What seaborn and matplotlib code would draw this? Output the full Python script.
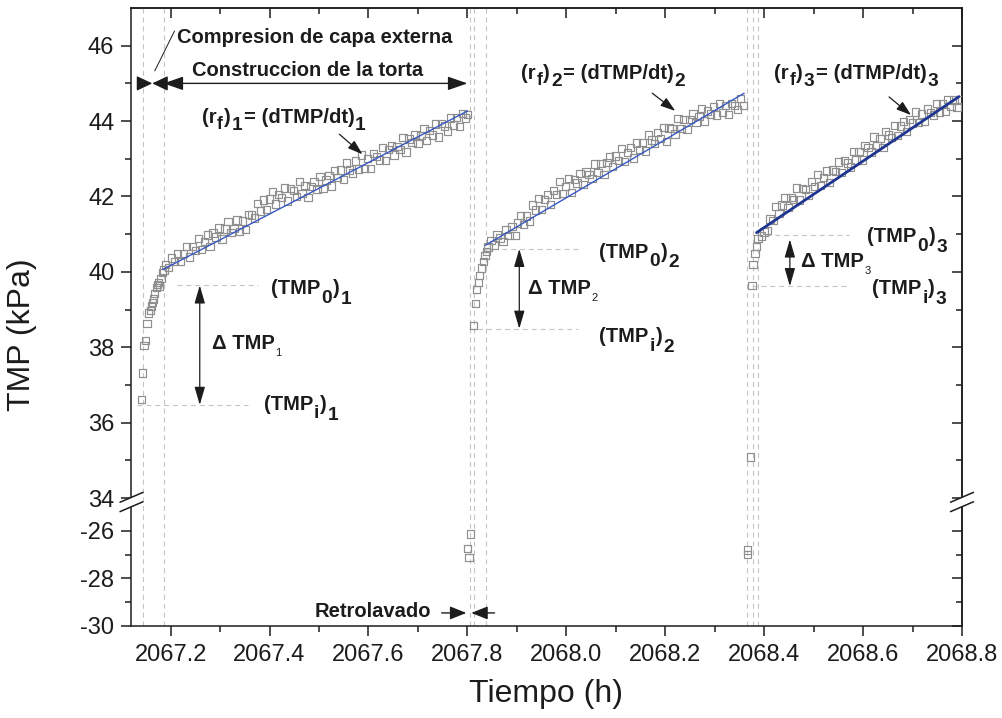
import numpy as np
import pandas as pd
import matplotlib
matplotlib.use("Agg")
import matplotlib.pyplot as plt
import seaborn as sns
from matplotlib.lines import Line2D
from matplotlib.patches import Polygon
from matplotlib.transforms import ScaledTranslation
from matplotlib.ticker import FixedLocator, FormatStrFormatter, MultipleLocator

# ---------------- data ----------------
# cycle 1 : initial rise + cake build-up
x1_rise = [2067.141, 2067.143, 2067.146, 2067.149, 2067.152, 2067.156, 2067.159, 2067.161, 2067.163,
           2067.166, 2067.168, 2067.171, 2067.173, 2067.176, 2067.178, 2067.181, 2067.184, 2067.187]
y1_rise = [36.62, 37.32, 38.04, 38.18, 38.63, 38.91, 38.98, 39.09, 39.18,
           39.28, 39.42, 39.58, 39.66, 39.71, 39.62, 39.82, 39.99, 40.05]
x1_band = [2067.190, 2067.196, 2067.202, 2067.208, 2067.214, 2067.220, 2067.226, 2067.232, 2067.238, 2067.244,
           2067.250, 2067.256, 2067.262, 2067.268, 2067.274, 2067.280, 2067.286, 2067.292, 2067.298, 2067.304,
           2067.310, 2067.316, 2067.322, 2067.328, 2067.334, 2067.340, 2067.346, 2067.352, 2067.358, 2067.364,
           2067.370, 2067.376, 2067.382, 2067.388, 2067.394, 2067.400, 2067.406, 2067.412, 2067.418, 2067.424,
           2067.430, 2067.436, 2067.442, 2067.448, 2067.454, 2067.460, 2067.466, 2067.472, 2067.478, 2067.484,
           2067.490, 2067.496, 2067.502, 2067.508, 2067.514, 2067.520, 2067.526, 2067.532, 2067.538, 2067.544,
           2067.550, 2067.556, 2067.562, 2067.568, 2067.574, 2067.580, 2067.586, 2067.592, 2067.598, 2067.604,
           2067.610, 2067.616, 2067.622, 2067.628, 2067.634, 2067.640, 2067.646, 2067.652, 2067.658, 2067.664,
           2067.670, 2067.676, 2067.682, 2067.688, 2067.694, 2067.700, 2067.706, 2067.712, 2067.718, 2067.724,
           2067.730, 2067.736, 2067.742, 2067.748, 2067.754, 2067.760, 2067.766, 2067.772, 2067.778, 2067.784,
           2067.790, 2067.796, 2067.800]
y1_band = [40.20, 40.12, 40.37, 40.27, 40.49, 40.27, 40.49, 40.68, 40.39, 40.67,
           40.57, 40.88, 40.59, 40.80, 40.98, 40.67, 41.03, 40.92, 41.16, 40.87,
           41.14, 41.33, 41.04, 41.15, 41.38, 41.07, 41.35, 41.12, 41.53, 41.51,
           41.43, 41.82, 41.61, 41.91, 41.65, 41.93, 42.13, 41.80, 42.06, 41.97,
           42.22, 41.88, 42.21, 42.16, 42.00, 42.40, 42.08, 42.29, 41.97, 42.27,
           42.40, 42.19, 42.53, 42.21, 42.44, 42.56, 42.28, 42.69, 42.50, 42.70,
           42.45, 42.89, 42.70, 42.62, 42.94, 42.73, 43.10, 42.74, 43.00, 42.75,
           43.14, 43.06, 42.97, 43.30, 42.96, 43.25, 43.35, 43.10, 43.32, 43.25,
           43.57, 43.18, 43.52, 43.43, 43.65, 43.41, 43.62, 43.80, 43.48, 43.75,
           43.63, 43.92, 43.58, 43.93, 43.87, 43.74, 44.08, 43.90, 44.10, 43.86,
           44.20, 44.08, 44.18]

# cycle 2 : backwash points (lower segment), rise, build-up
x2_low = [2067.8006, 2067.8034, 2067.8060]
y2_low = [-26.73, -27.12, -26.13]
x2_rise = [2067.812, 2067.816, 2067.818, 2067.822, 2067.824, 2067.828, 2067.832, 2067.836, 2067.839]
y2_rise = [38.57, 39.16, 39.53, 39.72, 39.90, 40.10, 40.28, 40.44, 40.54]
x2_band = [2067.842, 2067.848, 2067.854, 2067.860, 2067.866, 2067.872, 2067.878, 2067.884, 2067.890, 2067.896,
           2067.902, 2067.908, 2067.914, 2067.920, 2067.926, 2067.932, 2067.938, 2067.944, 2067.950, 2067.956,
           2067.962, 2067.968, 2067.974, 2067.980, 2067.986, 2067.992, 2067.998, 2068.004, 2068.010, 2068.016,
           2068.022, 2068.028, 2068.034, 2068.040, 2068.046, 2068.052, 2068.058, 2068.064, 2068.070, 2068.076,
           2068.082, 2068.088, 2068.094, 2068.100, 2068.106, 2068.112, 2068.118, 2068.124, 2068.130, 2068.136,
           2068.142, 2068.148, 2068.154, 2068.160, 2068.166, 2068.172, 2068.178, 2068.184, 2068.190, 2068.196,
           2068.202, 2068.208, 2068.214, 2068.220, 2068.226, 2068.232, 2068.238, 2068.244, 2068.250, 2068.256,
           2068.262, 2068.268, 2068.274, 2068.280, 2068.286, 2068.292, 2068.298, 2068.304, 2068.310, 2068.316,
           2068.322, 2068.328, 2068.334, 2068.340, 2068.346, 2068.352, 2068.358]
y2_band = [40.66, 40.84, 40.71, 40.98, 40.90, 40.81, 41.13, 40.96, 41.20, 40.96,
           41.30, 41.50, 41.26, 41.48, 41.35, 41.77, 41.64, 41.94, 41.65, 41.92,
           42.06, 41.79, 42.15, 42.05, 42.40, 42.07, 42.26, 42.47, 42.10, 42.45,
           42.36, 42.61, 42.31, 42.65, 42.58, 42.48, 42.86, 42.63, 42.88, 42.59,
           42.90, 43.05, 42.80, 43.07, 42.96, 43.27, 42.93, 43.17, 43.30, 43.02,
           43.42, 43.25, 43.43, 43.21, 43.63, 43.50, 43.40, 43.70, 43.53, 43.83,
           43.46, 43.82, 43.80, 43.66, 44.06, 43.81, 44.04, 43.78, 44.05, 44.19,
           43.97, 44.13, 44.34, 44.00, 44.27, 44.19, 44.39, 44.16, 44.47, 44.22,
           44.42, 44.17, 44.47, 44.42, 44.30, 44.60, 44.41]

# cycle 3
x3_low = [2068.3657, 2068.3667]
y3_low = [-27.00, -26.80]
x3_rise = [2068.3725, 2068.3758, 2068.3778, 2068.3818, 2068.3846, 2068.3879, 2068.3947]
y3_rise = [35.09, 39.64, 40.20, 40.49, 40.68, 40.88, 40.95]
x3_band = [2068.400, 2068.406, 2068.412, 2068.418, 2068.424, 2068.430, 2068.436, 2068.442, 2068.448, 2068.454,
           2068.460, 2068.466, 2068.472, 2068.478, 2068.484, 2068.490, 2068.496, 2068.502, 2068.508, 2068.514,
           2068.520, 2068.526, 2068.532, 2068.538, 2068.544, 2068.550, 2068.556, 2068.562, 2068.568, 2068.574,
           2068.580, 2068.586, 2068.592, 2068.598, 2068.604, 2068.610, 2068.616, 2068.622, 2068.628, 2068.634,
           2068.640, 2068.646, 2068.652, 2068.658, 2068.664, 2068.670, 2068.676, 2068.682, 2068.688, 2068.694,
           2068.700, 2068.706, 2068.712, 2068.718, 2068.724, 2068.730, 2068.736, 2068.742, 2068.748, 2068.754,
           2068.760, 2068.766, 2068.772, 2068.778, 2068.784, 2068.790, 2068.796]
y3_band = [41.06, 41.09, 41.40, 41.37, 41.73, 41.54, 41.77, 41.96, 41.70, 41.98,
           41.92, 42.22, 41.91, 42.21, 42.19, 42.03, 42.40, 42.26, 42.59, 42.29,
           42.50, 42.68, 42.37, 42.70, 42.66, 42.91, 42.64, 42.96, 42.89, 42.78,
           43.19, 42.97, 43.20, 42.97, 43.35, 43.30, 43.18, 43.58, 43.35, 43.54,
           43.30, 43.72, 43.63, 43.56, 43.89, 43.62, 43.87, 43.99, 43.73, 44.05,
           43.95, 44.24, 43.96, 44.19, 43.99, 44.32, 44.23, 44.16, 44.47, 44.24,
           44.47, 44.25, 44.57, 44.39, 44.56, 44.36, 44.57]

# linear fits (r_f = dTMP/dt)
fit1_x = [2067.1844, 2067.8006]; fit1_y = [40.06, 44.27]
fit2_x = [2067.8360, 2068.3596]; fit2_y = [40.70, 44.74]
fit3_x = [2068.3846, 2068.7940]; fit3_y = [41.04, 44.65]

# phase boundaries (vertical dashed lines)
phase_x = [2067.144, 2067.186, 2067.806, 2067.814, 2067.837, 2068.366, 2068.377, 2068.388]

# TMP_0 / TMP_i levels and the x-span of their guide lines
tmp0 = [39.64, 40.61, 40.97]
tmpi = [36.47, 38.49, 39.62]
tmp0_span = [(2067.212, 2067.376), (2067.834, 2068.026), (2068.386, 2068.572)]
tmpi_span = [(2067.133, 2067.356), (2067.804, 2068.024), (2068.376, 2068.572)]
dtmp_x = [2067.259, 2067.905, 2068.452]
dtmp_top = [39.64, 40.61, 40.86]

# axes ticks
x_ticks = [2067.2, 2067.4, 2067.6, 2067.8, 2068.0, 2068.2, 2068.4, 2068.6, 2068.8]
y_top_ticks = [34, 36, 38, 40, 42, 44, 46]
y_top_minor = [35, 37, 39, 41, 43, 45]
y_bot_ticks = [-30, -28, -26]
y_bot_minor = [-29, -27]

# ---------------- style ----------------
sns.set_style("ticks")
plt.rcParams['font.family'] = ['Liberation Sans', 'DejaVu Sans']
plt.rcParams['axes.unicode_minus'] = False

INK = '#1c1c1c'
GRID = '#c4c4c4'
MK = '#8f8f8f'

W, H = 1003, 718
fig = plt.figure(figsize=(W / 100, H / 100), dpi=100)
L = 131 / W
WD = (962 - 131) / W
JOIN = 502
ax_top = fig.add_axes([L, 1 - JOIN / H, WD, (JOIN - 8) / H])
ax_bot = fig.add_axes([L, 1 - 626 / H, WD, (626 - JOIN) / H], sharex=ax_top)

top_df = pd.DataFrame({
    't': x1_rise + x1_band + x2_rise + x2_band + x3_rise + x3_band,
    'tmp': y1_rise + y1_band + y2_rise + y2_band + y3_rise + y3_band,
})
bot_df = pd.DataFrame({'t': x2_low + x3_low, 'tmp': y2_low + y3_low})

XL = (2067.12, 2068.8)
YT = (33.894, 47.0)
YB = (-30.0, -24.78)

# dashed phase boundaries
for ax in (ax_top, ax_bot):
    for xv in phase_x:
        ax.axvline(xv, color=GRID, lw=0.8, ls=(0, (4.5, 3.5)), zorder=1)

# guide lines for TMP_0 / TMP_i
for lv, (a, b) in zip(tmp0, tmp0_span):
    ax_top.plot([a, b], [lv, lv], color=GRID, lw=0.8, ls=(0, (4.5, 3.5)), zorder=1)
for lv, (a, b) in zip(tmpi, tmpi_span):
    ax_top.plot([a, b], [lv, lv], color=GRID, lw=0.8, ls=(0, (4.5, 3.5)), zorder=1)

# scatter points
sns.scatterplot(data=top_df, x='t', y='tmp', ax=ax_top, marker='s', s=28,
                facecolor='none', edgecolor=MK, linewidth=0.85, legend=False, zorder=3)
sns.scatterplot(data=bot_df, x='t', y='tmp', ax=ax_bot, marker='s', s=28,
                facecolor='none', edgecolor=MK, linewidth=0.85, legend=False, zorder=3)

# fitted lines
sns.lineplot(x=fit1_x, y=fit1_y, ax=ax_top, color='#3558c4', lw=1.0, estimator=None, sort=False, legend=False, zorder=4)
sns.lineplot(x=fit2_x, y=fit2_y, ax=ax_top, color='#3558c4', lw=1.0, estimator=None, sort=False, legend=False, zorder=4)
sns.lineplot(x=fit3_x, y=fit3_y, ax=ax_top, color='#1f3592', lw=2.0, estimator=None, sort=False, legend=False, zorder=4)

# ---------------- axes formatting ----------------
for ax in (ax_top, ax_bot):
    ax.set_xlim(*XL)
    ax.set_xlabel('')
    ax.set_ylabel('')
    for sp in ax.spines.values():
        sp.set_linewidth(1.1)
        sp.set_color(INK)
ax_top.set_ylim(*YT)
ax_bot.set_ylim(*YB)
ax_top.spines['bottom'].set_visible(False)
ax_bot.spines['top'].set_visible(False)

tick_kw = dict(color=INK, width=1.1, labelcolor=INK)
ax_top.yaxis.set_major_locator(FixedLocator(y_top_ticks))
ax_top.yaxis.set_minor_locator(FixedLocator(y_top_minor))
ax_top.yaxis.set_major_formatter(FormatStrFormatter('%d'))
ax_top.tick_params(axis='x', which='both', bottom=False, top=False, labelbottom=False)
ax_top.tick_params(axis='y', which='major', direction='out', length=7, labelsize=17, pad=5, **tick_kw)
ax_top.tick_params(axis='y', which='minor', direction='out', length=4, **tick_kw)
ax_bot.yaxis.set_major_locator(FixedLocator(y_bot_ticks))
ax_bot.yaxis.set_minor_locator(FixedLocator(y_bot_minor))
ax_bot.yaxis.set_major_formatter(FormatStrFormatter('%d'))
ax_bot.xaxis.set_major_locator(FixedLocator(x_ticks))
ax_bot.xaxis.set_minor_locator(MultipleLocator(0.1))
ax_bot.xaxis.set_major_formatter(FormatStrFormatter('%.1f'))
ax_bot.tick_params(axis='y', which='major', direction='out', length=7, labelsize=17, pad=5, **tick_kw)
ax_bot.tick_params(axis='y', which='minor', direction='out', length=4, **tick_kw)
ax_bot.tick_params(axis='x', which='major', direction='out', length=7, labelsize=17, pad=6, top=False, **tick_kw)
ax_bot.tick_params(axis='x', which='minor', direction='out', length=4, top=False, **tick_kw)

# inward ticks on right and top (Origin style)
for ax, maj, mnr in ((ax_top, y_top_ticks, y_top_minor), (ax_bot, y_bot_ticks, y_bot_minor)):
    sec = ax.secondary_yaxis('right')
    sec.yaxis.set_major_locator(FixedLocator(maj))
    sec.yaxis.set_minor_locator(FixedLocator(mnr))
    sec.tick_params(axis='y', which='major', direction='in', length=7, labelright=False, color=INK, width=1.1)
    sec.tick_params(axis='y', which='minor', direction='in', length=4, labelright=False, color=INK, width=1.1)
    sec.spines['right'].set_linewidth(1.1)
    sec.spines['right'].set_color(INK)
secx = ax_top.secondary_xaxis('top')
secx.xaxis.set_major_locator(FixedLocator(x_ticks))
secx.xaxis.set_minor_locator(MultipleLocator(0.1))
secx.tick_params(axis='x', which='major', direction='in', length=7, labeltop=False, color=INK, width=1.1)
secx.tick_params(axis='x', which='minor', direction='in', length=4, labeltop=False, color=INK, width=1.1)
secx.spines['top'].set_linewidth(1.1)
secx.spines['top'].set_color(INK)

ax_bot.set_xlabel('Tiempo (h)', fontsize=23, color=INK, labelpad=9)
fig.text(22 / W, 1 - 335 / H, 'TMP (kPa)', rotation=90, fontsize=23, color=INK, ha='center', va='center')

# ---------------- annotations ----------------
def arrow(ax, x0, y0, x1, y1, style, lw=1.0, ms=10):
    ax.annotate('', xy=(x1, y1), xytext=(x0, y0), xycoords='data', textcoords='data',
                arrowprops=dict(arrowstyle=style, color=INK, lw=lw, shrinkA=0, shrinkB=0,
                                mutation_scale=ms), annotation_clip=False)

FS = 14.5
BF = dict(fontsize=FS, fontweight='bold', color=INK)
renderer = fig.canvas.get_renderer()


def rich(ax, x, y, runs):
    """Draw text made of runs (text, scale, dy in points, weight) one after another."""
    dx = 0.0
    for txt, scale, dy, weight in runs:
        tr = ax.transData + ScaledTranslation(dx / 72.0, dy / 72.0, fig.dpi_scale_trans)
        t = ax.text(x, y, txt, transform=tr, fontsize=FS * scale, fontweight=weight,
                    color=INK, ha='left', va='baseline')
        bb = t.get_window_extent(renderer=renderer)
        dx += bb.width * 72.0 / fig.dpi + 0.6 * scale


def rf_runs(k):
    return [('(r', 1, 0, 'bold'), ('f', 0.88, -4.5, 'bold'), (')', 1, 0, 'bold'),
            (k, 0.95, -5.0, 'bold'), ('=', 1, 0, 'bold'), (' (dTMP/dt)', 1, 0, 'bold'),
            (k, 0.95, -5.0, 'bold')]


def tmp_runs(sub, k):
    return [('(TMP', 1, 0, 'bold'), (sub, 0.95, -6.0, 'bold'), (')', 1, 0, 'bold'),
            (k, 0.95, -7.0, 'bold')]


def dtmp_runs(k):
    return [('Δ TMP', 1, 0, 'bold'), (k, 0.55, -5.0, 'normal')]


# compression / construction arrows
arrow(ax_top, 2067.136, 45.0, 2067.163, 45.0, '-|>,head_length=0.95,head_width=0.45')
arrow(ax_top, 2067.189, 45.0, 2067.163, 45.0, '-|>,head_length=0.95,head_width=0.45')
arrow(ax_top, 2067.186, 45.0, 2067.800, 45.0, '<|-|>,head_length=1.2,head_width=0.42')
ax_top.plot([2067.168, 2067.208], [45.33, 46.39], color=INK, lw=0.7)
ax_top.text(2067.212, 46.06, 'Compresion de capa externa', ha='left', va='baseline', **BF)
ax_top.text(2067.477, 45.20, 'Construccion de la torta', ha='center', va='baseline', **BF)

# r_f labels and pointer arrows
rich(ax_top, 2067.263, 43.95, rf_runs('1'))
rich(ax_top, 2067.909, 45.12, rf_runs('2'))
rich(ax_top, 2068.420, 45.12, rf_runs('3'))
arrow(ax_top, 2067.5414, 43.65, 2067.5879, 43.12, '-|>,head_length=0.9,head_width=0.3', lw=0.9)
arrow(ax_top, 2068.1737, 44.74, 2068.2202, 44.27, '-|>,head_length=0.9,head_width=0.3', lw=0.9)
arrow(ax_top, 2068.6525, 44.64, 2068.6970, 44.16, '-|>,head_length=0.9,head_width=0.3', lw=0.9)

# delta TMP arrows
for xv, yt, yb in zip(dtmp_x, dtmp_top, tmpi):
    arrow(ax_top, xv, yt, xv, yb, '<|-|>,head_length=1.1,head_width=0.32', lw=0.9)

rich(ax_top, 2067.404, 39.40, tmp_runs('0', '1'))
rich(ax_top, 2067.283, 37.94, dtmp_runs('1'))
rich(ax_top, 2067.388, 36.34, tmp_runs('i', '1'))
rich(ax_top, 2068.067, 40.38, tmp_runs('0', '2'))
rich(ax_top, 2067.923, 39.40, dtmp_runs('2'))
rich(ax_top, 2068.067, 38.13, tmp_runs('i', '2'))
rich(ax_top, 2068.608, 40.78, tmp_runs('0', '3'))
rich(ax_top, 2068.475, 40.14, dtmp_runs('3'))
rich(ax_top, 2068.618, 39.40, tmp_runs('i', '3'))

# backwash
ax_bot.text(2067.491, -29.61, 'Retrolavado', ha='left', va='baseline', **BF)
arrow(ax_bot, 2067.748, -29.45, 2067.798, -29.45, '-|>,head_length=1.0,head_width=0.4')
arrow(ax_bot, 2067.855, -29.45, 2067.808, -29.45, '-|>,head_length=1.0,head_width=0.4')

# ---------------- axis break marks ----------------
def fx(px):
    return px / W


def fy(py):
    return 1 - py / H


for xc in (131.5, 962.0):
    s = 0.43
    y1c, y2c = JOIN - 4.7, JOIN + 4.7
    poly = Polygon([(fx(xc - 2.5), fy(y1c + 2.5 * s)), (fx(xc + 2.5), fy(y1c - 2.5 * s)),
                    (fx(xc + 2.5), fy(y2c - 2.5 * s)), (fx(xc - 2.5), fy(y2c + 2.5 * s))],
                   closed=True, transform=fig.transFigure, facecolor='white', edgecolor='none', zorder=20)
    fig.add_artist(poly)
    for yc in (y1c, y2c):
        fig.add_artist(Line2D([fx(xc - 11.5), fx(xc + 11.5)], [fy(yc + 11.5 * s), fy(yc - 11.5 * s)],
                              transform=fig.transFigure, color=INK, lw=1.1, zorder=21))

fig.savefig('out.png', dpi=100)
